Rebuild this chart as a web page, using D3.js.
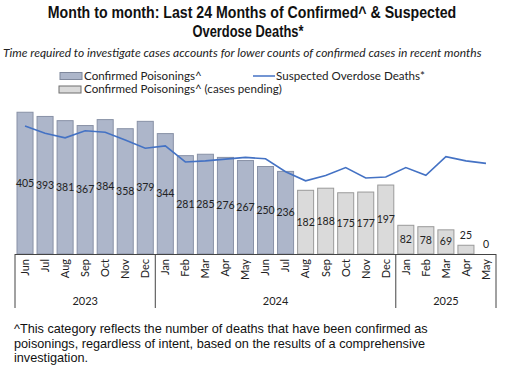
<!DOCTYPE html>
<html>
<head>
<meta charset="utf-8">
<script src="https://cdn.jsdelivr.net/npm/d3@7"></script>
<style>
  body { margin: 0; background: #fff; }
  svg { display: block; }
</style>
</head>
<body>
<div id="chart"></div>
<script>
// months shown on the x axis (Jun 2023 - May 2025)
var months = ["Jun","Jul","Aug","Sep","Oct","Nov","Dec",
              "Jan","Feb","Mar","Apr","May","Jun","Jul","Aug","Sep","Oct","Nov","Dec",
              "Jan","Feb","Mar","Apr","May"];
var yearLabels = ["2023", "2024", "2025"];
var yearCounts = [7, 12, 5];

// confirmed poisonings (completed) and confirmed with cases pending
var confirmed = [405, 393, 381, 367, 384, 358, 379, 344, 281, 285, 276, 267, 250, 236];
var pending = [182, 188, 175, 177, 197, 82, 78, 69, 25, 0];
// suspected overdose deaths (line)
var suspected = [366, 345, 332, 352, 348, 326, 302, 309, 263, 266, 271, 276, 272,
                 235, 209, 224, 247, 217, 220, 247, 225, 278, 266, 259];

var width = 531, height = 380;
var margin = {left: 15, right: 35, top: 79, baseline: 254};

var svg = d3.select("#chart").append("svg")
    .attr("width", width)
    .attr("height", height);

var bars = confirmed.map(function(v, i) { return {i: i, value: v, pending: false}; })
    .concat(pending.map(function(v, i) { return {i: confirmed.length + i, value: v, pending: true}; }));

var x = d3.scaleBand()
    .domain(d3.range(months.length))
    .range([margin.left, width - margin.right])
    .paddingInner(0.2)
    .paddingOuter(0.1);

var y = d3.scaleLinear()
    .domain([0, 500])
    .range([margin.baseline, margin.baseline - 175]);

// title: bold, squeezed horizontally to look like a condensed face
function condensedTitle(str, cx, cy, w) {
    var t = svg.append("text")
        .style("font-family", "'Liberation Sans', sans-serif")
        .style("font-weight", "bold")
        .style("font-size", "17px")
        .attr("fill", "#111")
        .attr("text-anchor", "middle")
        .text(str);
    var natural = t.node().getComputedTextLength();
    var sx = w / natural;
    t.attr("transform", "translate(" + cx + "," + cy + ") scale(" + sx + ",1)");
}
condensedTitle("Month to month: Last 24 Months of  Confirmed^ & Suspected", 252, 18, 409);
condensedTitle("Overdose Deaths*", 248, 37, 111);

svg.append("text")
    .attr("x", 3).attr("y", 57)
    .style("font-family", "Lato, sans-serif")
    .style("font-style", "italic")
    .style("font-size", "12px")
    .attr("fill", "#222")
    .text("Time required to investigate cases accounts for lower counts of confirmed cases in recent months");

// legend
var leg = svg.append("g").style("font-family", "Lato, sans-serif").style("font-size", "11.6px").attr("fill", "#222");
leg.append("rect").attr("x", 60).attr("y", 72.5).attr("width", 22).attr("height", 7)
    .attr("fill", "#adb6ca").attr("stroke", "#7f889c");
leg.append("text").attr("x", 84).attr("y", 80).text("Confirmed Poisonings^");
leg.append("rect").attr("x", 59).attr("y", 86).attr("width", 22).attr("height", 7)
    .attr("fill", "#dadada").attr("stroke", "#6f6f6f");
leg.append("text").attr("x", 84).attr("y", 93).text("Confirmed Poisonings^ (cases pending)");
leg.append("line").attr("x1", 253).attr("x2", 275).attr("y1", 76).attr("y2", 76)
    .attr("stroke", "#4472c4").attr("stroke-width", 1.5);
leg.append("text").attr("x", 276).attr("y", 80).text("Suspected Overdose Deaths*");

// bars
svg.selectAll("rect.bar")
    .data(bars)
    .enter()
    .append("rect")
    .attr("class", "bar")
    .attr("x", function(d) { return x(d.i); })
    .attr("y", function(d) { return y(d.value); })
    .attr("width", x.bandwidth())
    .attr("height", function(d) { return y(0) - y(d.value); })
    .attr("fill", function(d) { return d.pending ? "#dadada" : "#adb6ca"; })
    .attr("stroke", function(d) { return d.pending ? "#9a9a9a" : "#8891a6"; })
    .attr("stroke-width", 1);

// suspected line
var line = d3.line()
    .x(function(d, i) { return x(i) + x.bandwidth() / 2; })
    .y(function(d) { return y(d); });
svg.append("path")
    .datum(suspected)
    .attr("d", line)
    .attr("fill", "none")
    .attr("stroke", "#4472c4")
    .attr("stroke-width", 1.6);

// value labels
svg.selectAll("text.val")
    .data(bars)
    .enter()
    .append("text")
    .attr("class", "val")
    .attr("x", function(d) { return x(d.i) + x.bandwidth() / 2; })
    .attr("y", function(d) {
        var h = y(0) - y(d.value);
        return h > 20 ? y(d.value / 2) + 3.5 : y(d.value) - 6;
    })
    .attr("text-anchor", "middle")
    .style("font-family", "Lato, sans-serif")
    .style("font-size", "10.5px")
    .attr("fill", "#222")
    .text(function(d) { return d.value; });

// x axis with month labels
var xAxis = svg.append("g")
    .attr("transform", "translate(0," + margin.baseline + ")")
    .call(d3.axisBottom(x).tickSize(0).tickFormat(function(i) { return months[i]; }));
xAxis.select(".domain").attr("stroke", "#444").attr("d", "M" + margin.left + ",0.5H" + (width - margin.right));
xAxis.selectAll("text")
    .attr("transform", "rotate(-90)")
    .attr("x", -5).attr("y", 0).attr("dy", "0.35em")
    .attr("text-anchor", "end")
    .style("font-family", "Lato, sans-serif")
    .style("font-size", "11px")
    .attr("fill", "#222");

// year groups
var step = x.step();
var start = 0;
var edges = [x.range()[0]];
yearLabels.forEach(function(yr, k) {
    var x0 = x.range()[0] + start * step;
    var x1 = x0 + yearCounts[k] * step;
    edges.push(x1);
    svg.append("text")
        .attr("x", (x0 + x1) / 2).attr("y", 305)
        .attr("text-anchor", "middle")
        .style("font-family", "Lato, sans-serif")
        .style("font-size", "11px")
        .attr("fill", "#222")
        .text(yr);
    start += yearCounts[k];
});
svg.selectAll("line.sep")
    .data(edges)
    .enter()
    .append("line")
    .attr("class", "sep")
    .attr("x1", function(d) { return d; }).attr("x2", function(d) { return d; })
    .attr("y1", margin.baseline).attr("y2", 308)
    .attr("stroke", "#444");

// footnote
var foot = ["^This category reflects the number of deaths that have been confirmed as",
            "poisonings, regardless of intent, based on the results of a comprehensive",
            "investigation."];
svg.selectAll("text.foot")
    .data(foot)
    .enter()
    .append("text")
    .attr("class", "foot")
    .attr("x", 14)
    .attr("y", function(d, i) { return 333 + i * 14.5; })
    .style("font-family", "'Liberation Sans', Arial, sans-serif")
    .style("font-size", "12.7px")
    .attr("fill", "#111")
    .text(function(d) { return d; });
</script>
</body>
</html>
